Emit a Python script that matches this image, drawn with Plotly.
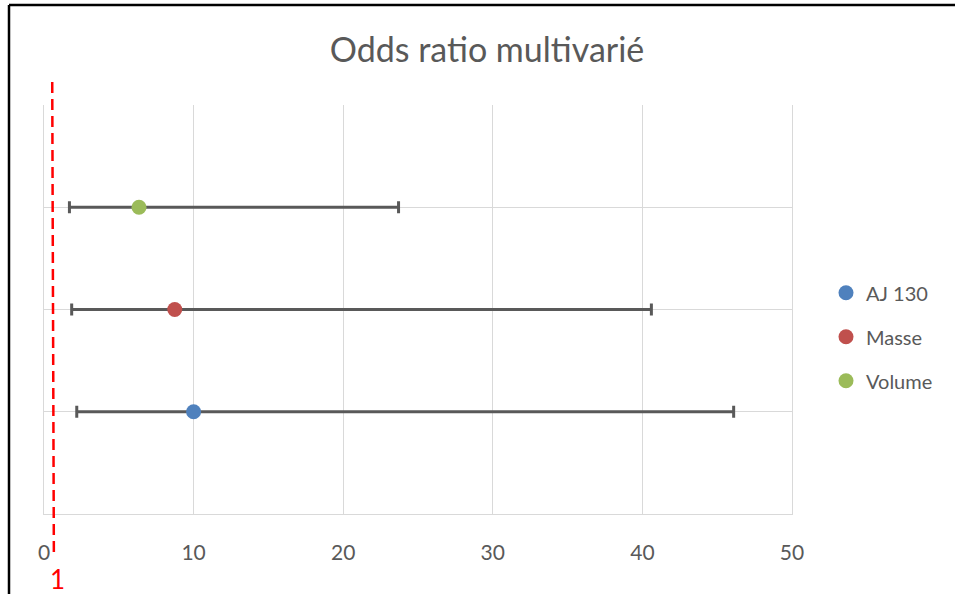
import plotly.graph_objects as go

names = ["AJ 130", "Masse", "Volume"]
odds = [10.0, 8.74, 6.35]
lower = [2.19, 1.85, 1.70]
upper = [46.1, 40.6, 23.7]
ypos = [1, 2, 3]
colors = ["#4f81bd", "#c0504d", "#9bbb59"]
x_ticks = [0, 10, 20, 30, 40, 50]
ref_value_label = "1"

W, H = 955, 594
L, R, T, B = 44, 792, 105, 514.5
pw, ph = R - L, B - T

def px(xpix):
    return (xpix - L) / pw

def py(ypix):
    return (B - ypix) / ph

fig = go.Figure()
for i, n in enumerate(names):
    fig.add_trace(go.Scatter(
        x=[odds[i]], y=[ypos[i]], mode="markers", name=n,
        legendgroup=n,
        marker=dict(color=colors[i], size=15, line=dict(width=0)),
        error_x=dict(type="data", symmetric=False,
                     array=[upper[i] - odds[i]], arrayminus=[odds[i] - lower[i]],
                     color="#595959", thickness=3, width=6),
    ))

shapes = [
    # red dashed reference line
    dict(type="line", xref="x", yref="paper", x0=0.55, x1=0.66, y0=py(82), y1=py(556),
         line=dict(color="#ff0000", width=2.5, dash="11px,6px"), layer="above"),
    # outer frame (left and top)
    dict(type="line", xref="paper", yref="paper", x0=px(9), x1=px(9), y0=py(5), y1=py(600),
         line=dict(color="#000000", width=2.5)),
    dict(type="line", xref="paper", yref="paper", x0=px(9), x1=px(960), y0=py(5), y1=py(5),
         line=dict(color="#000000", width=2.5)),
]

fig.update_layout(
    width=W, height=H,
    margin=dict(l=L, r=W - R, t=T, b=H - B, pad=0),
    paper_bgcolor="white", plot_bgcolor="white",
    font=dict(family="Lato", color="#595959", size=20),
    title=dict(text="Odds ratio multivarié", x=487 / W, xref="container", xanchor="center",
               y=1 - 50 / H, yanchor="middle",
               font=dict(size=34, color="#595959", family="Lato")),
    xaxis=dict(range=[0, 50], tickvals=x_ticks, ticktext=[str(v) for v in x_ticks],
               showgrid=True, gridcolor="#d9d9d9", gridwidth=1.3,
               zeroline=False, showline=True, linecolor="#d9d9d9", linewidth=1.3,
               ticks="", ticklabelstandoff=20, tickfont=dict(size=21)),
    yaxis=dict(range=[0, 4], dtick=1, showticklabels=False,
               showgrid=True, gridcolor="#d9d9d9", gridwidth=1.3,
               zeroline=False, showline=True, linecolor="#d9d9d9", linewidth=1.3, mirror=True,
               ticks=""),
    legend=dict(x=px(826), y=py(337), xanchor="left", yanchor="middle",
                font=dict(size=20, color="#595959"), tracegroupgap=15,
                itemwidth=30),
    shapes=shapes,
    annotations=[dict(text=ref_value_label, xref="paper", yref="paper", x=px(57), y=py(580),
                      showarrow=False, font=dict(color="#ff0000", size=26, family="Lato"),
                      xanchor="center", yanchor="middle")],
    showlegend=True,
)

fig.write_html("out.html", config={"displayModeBar": False},
               post_script="document.body.style.margin='0';document.body.style.overflow='hidden';")
